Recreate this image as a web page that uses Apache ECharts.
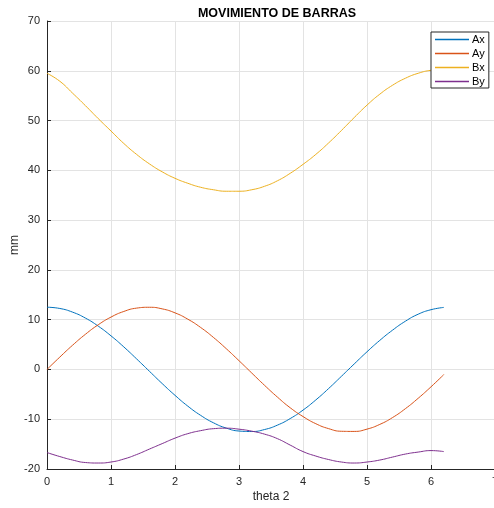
<!DOCTYPE html>
<html>
<head>
<meta charset="utf-8">
<script src="https://cdn.jsdelivr.net/npm/echarts@6/dist/echarts.min.js"></script>
<style>
  html, body { margin: 0; padding: 0; background: #fff; }
  #chart { width: 494px; height: 508px; }
</style>
</head>
<body>
<div id="chart"></div>
<script>
// crank angle samples (rad)
const theta = [0, 0.2, 0.4, 0.6, 0.8, 1.0, 1.2, 1.4, 1.6, 1.8, 2.0, 2.2, 2.4, 2.6, 2.8, 3.0,
  3.2, 3.4, 3.6, 3.8, 4.0, 4.2, 4.4, 4.6, 4.8, 5.0, 5.2, 5.4, 5.6, 5.8, 6.0, 6.2];

// joint positions (mm)
const ax = [12.5, 12.25, 11.51, 10.32, 8.71, 6.75, 4.53, 2.12, -0.36, -2.84, -5.2, -7.37, -9.22, -10.71, -11.78, -12.37,
  -12.47, -12.07, -11.19, -9.87, -8.17, -6.13, -3.84, -1.38, 1.1, 3.55, 5.84, 7.9, 9.69, 11.1, 12.0, 12.46];
const ay = [0, 2.48, 4.87, 7.06, 8.97, 10.52, 11.65, 12.32, 12.49, 12.17, 11.37, 10.1, 8.44, 6.44, 4.18, 1.76,
  -0.73, -3.2, -5.55, -7.7, -9.46, -10.9, -11.89, -12.42, -12.45, -11.99, -11.04, -9.66, -7.88, -5.79, -3.49, -1.04];
const bx = [59.5, 57.9, 55.5, 53.0, 50.4, 47.9, 45.4, 43.2, 41.3, 39.7, 38.4, 37.4, 36.6, 36.1, 35.8, 35.8,
  36.1, 36.8, 37.9, 39.4, 41.2, 43.2, 45.5, 48.0, 50.6, 53.1, 55.3, 57.1, 58.5, 59.5, 60.1, 60.3];
const by = [-16.7, -17.5, -18.2, -18.7, -18.8, -18.6, -18.0, -17.1, -16.0, -14.9, -13.8, -12.9, -12.3, -11.9, -11.8, -12.0,
  -12.4, -13.0, -13.9, -15.2, -16.5, -17.4, -18.1, -18.6, -18.8, -18.6, -18.2, -17.6, -17.0, -16.6, -16.3, -16.5];

const names = ["Ax", "Ay", "Bx", "By"];
const colors = ["#0072BD", "#D95319", "#EDB120", "#7E2F8E"];
const values = [ax, ay, bx, by];

const font = "'Liberation Sans', Arial, sans-serif";
const axisColor = "#262626";

const chart = echarts.init(document.getElementById("chart"), null, { renderer: "canvas" });

chart.setOption({
  animation: false,
  backgroundColor: "#fff",
  title: {
    text: "MOVIMIENTO DE BARRAS",
    left: 272,
    textAlign: "center",
    top: 2,
    textStyle: { fontFamily: font, fontSize: 12.5, fontWeight: "bold", color: "#000" },
  },
  legend: {
    orient: "vertical",
    left: 431,
    top: 32,
    icon: "rect",
    itemWidth: 34,
    itemHeight: 1.5,
    itemGap: 1,
    padding: [1, 4, 0, 4],
    backgroundColor: "#fff",
    borderColor: axisColor,
    borderWidth: 1,
    borderRadius: 0,
    textStyle: { fontFamily: font, fontSize: 11, color: "#000", lineHeight: 13, padding: [0, 0, 0, -2] },
    data: names,
  },
  grid: { left: 47, right: -1, top: 21, bottom: 39, containLabel: false, outerBoundsMode: "none" },
  xAxis: {
    type: "value",
    min: 0,
    max: 7,
    interval: 1,
    name: "theta 2",
    nameLocation: "middle",
    nameGap: 22,
    nameMoveOverlap: false,
    nameTextStyle: { fontFamily: font, fontSize: 12, color: axisColor },
    axisLine: { onZero: false, lineStyle: { color: axisColor, width: 1 } },
    axisTick: { inside: true, length: 4, lineStyle: { color: axisColor } },
    axisLabel: { fontFamily: font, fontSize: 11, color: axisColor, margin: 7 },
    splitLine: { show: true, lineStyle: { color: "#e3e3e3", width: 1 } },
  },
  yAxis: {
    type: "value",
    min: -20,
    max: 70,
    interval: 10,
    name: "mm",
    nameLocation: "middle",
    nameGap: 26,
    nameMoveOverlap: false,
    nameTextStyle: { fontFamily: font, fontSize: 12, color: axisColor },
    axisLine: { show: true, onZero: false, lineStyle: { color: axisColor, width: 1 } },
    axisTick: { show: true, inside: true, length: 4, lineStyle: { color: axisColor } },
    axisLabel: { fontFamily: font, fontSize: 11, color: axisColor, margin: 7 },
    splitLine: { show: true, lineStyle: { color: "#e3e3e3", width: 1 } },
  },
  series: names.map((name, i) => ({
    name,
    type: "line",
    symbol: "none",
    smooth: true,
    color: colors[i],
    lineStyle: { width: 1 },
    data: theta.map((t, k) => [t, values[i][k]]),
  })),
});
</script>
</body>
</html>
